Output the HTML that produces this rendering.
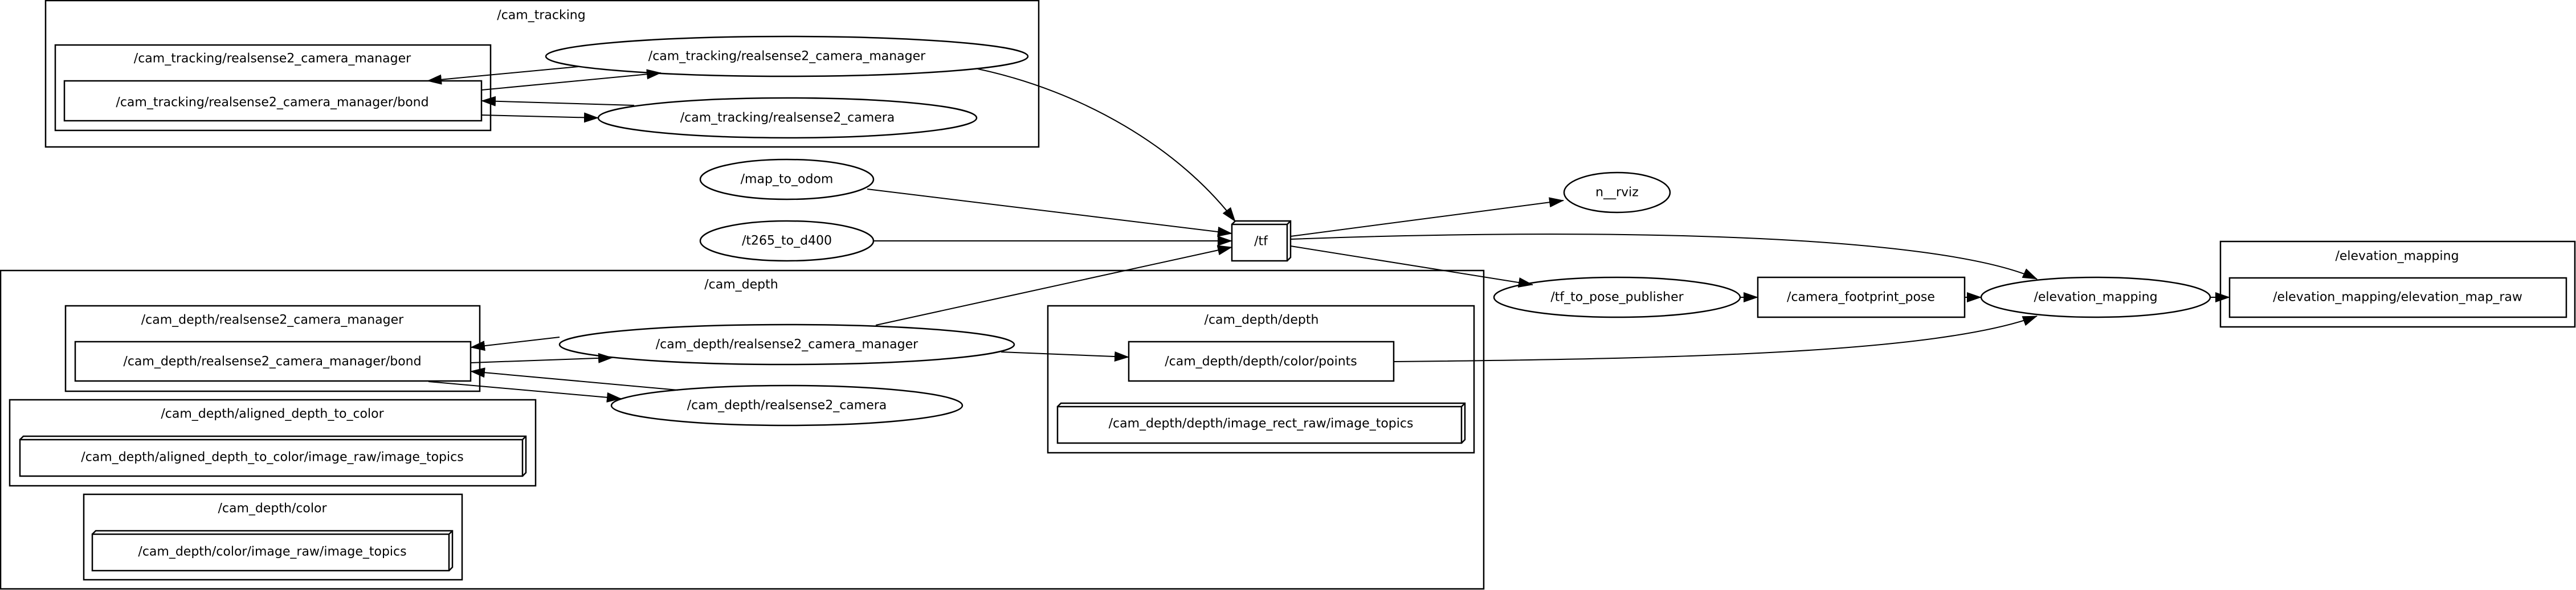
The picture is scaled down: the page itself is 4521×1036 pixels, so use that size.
<!DOCTYPE html>
<html><head><meta charset="utf-8"><style>
html,body{margin:0;padding:0;background:#fff;}
svg{display:block;}
text{font-family:"DejaVu Sans","Liberation Sans",sans-serif;font-size:22px;text-anchor:middle;dominant-baseline:central;fill:#000;}
.s{fill:none;stroke:#000;stroke-width:2.5;}
.e{fill:none;stroke:#000;stroke-width:2;}
</style></head><body>
<svg width="4521" height="1036" viewBox="0 0 4521 1036" xmlns="http://www.w3.org/2000/svg">
<defs><marker id="a" markerWidth="10" markerHeight="8" refX="9" refY="4" orient="auto" markerUnits="userSpaceOnUse" viewBox="0 0 10 8"><path d="M0,0 L10,4 L0,8 z" fill="#000"/></marker>
<marker id="A" markerWidth="26" markerHeight="18" refX="25" refY="9" orient="auto" markerUnits="userSpaceOnUse"><path d="M0,0 L26,9 L0,18 z" fill="#000"/></marker></defs>

<!-- clusters -->
<rect class="s" x="80" y="1" width="1743" height="257"/>
<text x="950" y="27">/cam_tracking</text>
<rect class="s" x="97" y="79" width="764" height="150"/>
<text x="478" y="103">/cam_tracking/realsense2_camera_manager</text>
<rect class="s" x="113" y="142" width="732" height="70"/>
<text x="478" y="180">/cam_tracking/realsense2_camera_manager/bond</text>
<ellipse class="s" cx="1381" cy="99" rx="423" ry="35"/>
<text x="1381" y="99">/cam_tracking/realsense2_camera_manager</text>
<ellipse class="s" cx="1382" cy="207" rx="332" ry="35"/>
<text x="1382" y="207">/cam_tracking/realsense2_camera</text>

<ellipse class="s" cx="1381" cy="315" rx="152" ry="35"/>
<text x="1381" y="315">/map_to_odom</text>
<ellipse class="s" cx="1381" cy="423" rx="152" ry="35"/>
<text x="1381" y="423">/t265_to_d400</text>

<rect class="s" x="1" y="475" width="2603" height="559"/>
<text x="1301" y="500">/cam_depth</text>
<rect class="s" x="115" y="537" width="727" height="150"/>
<text x="478" y="562">/cam_depth/realsense2_camera_manager</text>
<rect class="s" x="132" y="600" width="694" height="69"/>
<text x="478" y="635">/cam_depth/realsense2_camera_manager/bond</text>
<ellipse class="s" cx="1381" cy="605" rx="399" ry="35"/>
<text x="1381" y="605">/cam_depth/realsense2_camera_manager</text>
<ellipse class="s" cx="1381" cy="712" rx="308" ry="35"/>
<text x="1381" y="712">/cam_depth/realsense2_camera</text>

<rect class="s" x="17" y="702" width="923" height="151"/>
<text x="478" y="727">/cam_depth/aligned_depth_to_color</text>
<rect class="s" x="35" y="772" width="882" height="64"/>
<path class="s" d="M35,772 L41,766 L923,766 L923,830 L917,836 M917,772 L923,766"/>
<text x="478" y="803">/cam_depth/aligned_depth_to_color/image_raw/image_topics</text>

<rect class="s" x="147" y="868" width="664" height="150"/>
<text x="478" y="893">/cam_depth/color</text>
<rect class="s" x="162" y="938" width="626" height="64"/>
<path class="s" d="M162,938 L168,932 L794,932 L794,996 L788,1002 M788,938 L794,932"/>
<text x="478" y="969">/cam_depth/color/image_raw/image_topics</text>

<rect class="s" x="1839" y="537" width="748" height="258"/>
<text x="2214" y="562">/cam_depth/depth</text>
<rect class="s" x="1981" y="600" width="465" height="69"/>
<text x="2213" y="635">/cam_depth/depth/color/points</text>
<rect class="s" x="1856" y="714" width="709" height="64"/>
<path class="s" d="M1856,714 L1862,708 L2571,708 L2571,772 L2565,778 M2565,714 L2571,708"/>
<text x="2213" y="744">/cam_depth/depth/image_rect_raw/image_topics</text>

<!-- tf -->
<rect class="s" x="2162" y="394" width="97" height="64"/>
<path class="s" d="M2162,394 L2168,388 L2265,388 L2265,452 L2259,458 M2259,394 L2265,388"/>
<text x="2213" y="424">/tf</text>

<ellipse class="s" cx="2838" cy="338" rx="93" ry="35"/>
<text x="2838" y="338">n__rviz</text>
<ellipse class="s" cx="2838" cy="522" rx="216" ry="35"/>
<text x="2838" y="522">/tf_to_pose_publisher</text>
<rect class="s" x="3085" y="487" width="363" height="70"/>
<text x="3266" y="522">/camera_footprint_pose</text>
<ellipse class="s" cx="3678" cy="522" rx="201" ry="35"/>
<text x="3678" y="522">/elevation_mapping</text>
<rect class="s" x="3897" y="424" width="622" height="150"/>
<text x="4207" y="450">/elevation_mapping</text>
<rect class="s" x="3913" y="488" width="591" height="69"/>
<text x="4208" y="522">/elevation_mapping/elevation_map_raw</text>

<!-- edges -->
<g class="e" marker-end="url(#A)">
<path d="M1015,117 L750,142"/>
<path d="M845,158 L1160,128"/>
<path d="M1113,185 L845,177"/>
<path d="M845,202 L1050,207"/>
<path d="M982,592 L826,610"/>
<path d="M826,637 L1075,628"/>
<path d="M1190,685 L826,652"/>
<path d="M752,670 L1090,700"/>
<path d="M1757,618 L1981,627"/>
<path d="M1716,121 C1900,160 2070,260 2168,389"/>
<path d="M1522,332 L2162,410"/>
<path d="M1534,423 L2162,423"/>
<path d="M1537,571 L2162,434"/>
<path d="M2265,415 L2744,352"/>
<path d="M2265,432 L2690,500"/>
<path d="M2265,420 C2800,400 3400,410 3575,490"/>
<path d="M2446,635 C2950,630 3400,620 3575,555"/>
<path d="M3054,522 L3085,522"/>
<path d="M3448,522 L3477,522"/>
<path d="M3879,522 L3913,522"/>
</g>
</svg>
</body></html>
